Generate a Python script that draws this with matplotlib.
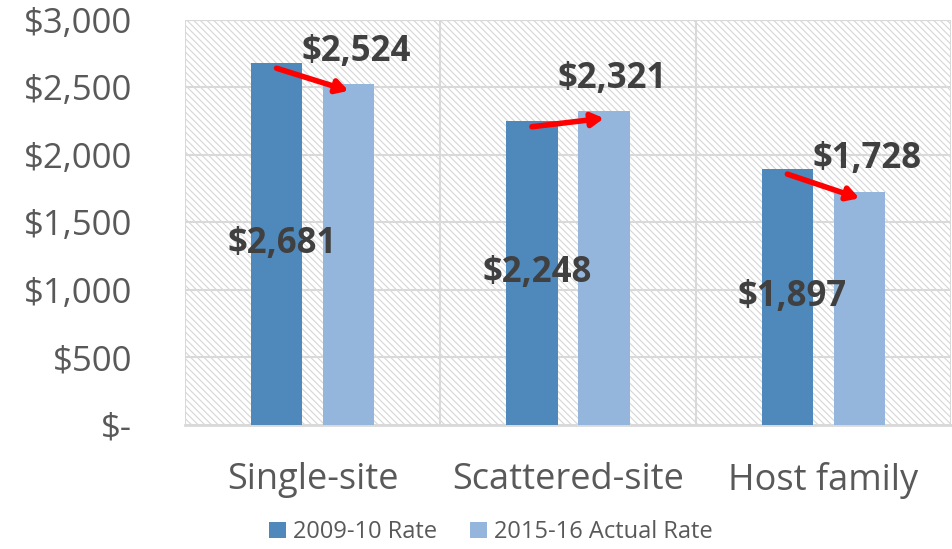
import numpy as np
import matplotlib.pyplot as plt
from matplotlib.patches import Rectangle

categories = ["Single-site", "Scattered-site", "Host family"]
rate_2009 = [2681, 2248, 1897]
rate_2015 = [2524, 2321, 1728]
series_names = ["2009-10 Rate", "2015-16 Actual Rate"]
yticks = [0, 500, 1000, 1500, 2000, 2500, 3000]
ytick_labels = ["$-", "$500", "$1,000", "$1,500", "$2,000", "$2,500", "$3,000"]

dark = "#4f88bb"
light = "#95b6dc"
txt = "#404040"
grid = "#d9d9d9"

plt.rcParams['font.family'] = ['Open Sans', 'DejaVu Sans']
plt.rcParams['hatch.color'] = '#d6d6d6'
plt.rcParams['hatch.linewidth'] = 0.8

fig = plt.figure(figsize=(9.53, 5.49), dpi=100)
ax = fig.add_axes([0.194, 0.226, 0.804, 0.738])

x = np.arange(len(categories))
w = 0.2
off = 0.141

# hatched background
ax.add_patch(Rectangle((0, 0), 1, 1, transform=ax.transAxes, facecolor='white',
                       hatch='\\\\\\\\\\', edgecolor='#d6d6d6', linewidth=0, zorder=0))

ax.bar(x - off, rate_2009, w, color=dark, label=series_names[0], zorder=3)
ax.bar(x + off, rate_2015, w, color=light, label=series_names[1], zorder=3)

ax.set_xlim(-0.5, 2.5)
ax.set_ylim(0, 3000)
ax.set_yticks(yticks)
ax.set_yticklabels(ytick_labels, fontsize=25, color='#595959')
ax.set_xticks(x)
ax.set_xticklabels(categories, fontsize=26, color='#595959')
ax.set_xticks([0.5, 1.5], minor=True)
ax.tick_params(axis='both', which='both', length=0)
ax.tick_params(axis='y', pad=38)
ax.tick_params(axis='x', pad=27)

ax.yaxis.grid(True, color=grid, linewidth=1.5, zorder=1)
ax.xaxis.grid(True, which='minor', color=grid, linewidth=1.5, zorder=1)
ax.xaxis.grid(False, which='major')
ax.set_axisbelow(True)
for s in ['top', 'right', 'left']:
    ax.spines[s].set_visible(False)
ax.spines['bottom'].set_color(grid)
ax.spines['bottom'].set_linewidth(2)
ax.axvline(-0.5, color=grid, linewidth=1.5, zorder=1)
ax.axvline(2.5, color=grid, linewidth=1.5, zorder=1)
ax.axhline(3000, color=grid, linewidth=1.5, zorder=1)

for i in range(len(categories)):
    ax.text(x[i] - off + 0.02, rate_2009[i] / 2, "${:,}".format(rate_2009[i]),
            ha='center', va='center', fontsize=25, fontweight='bold', color=txt, zorder=5)
    ax.text(x[i] + off + 0.03, rate_2015[i] + 240, "${:,}".format(rate_2015[i]),
            ha='center', va='center', fontsize=25, fontweight='bold', color=txt, zorder=5)
    ax.annotate("", xy=(x[i] + off, rate_2015[i] - 50),
                xytext=(x[i] - off, rate_2009[i] - 40),
                arrowprops=dict(arrowstyle='-|>,head_length=0.7,head_width=0.4',
                                color='#ff0000', lw=4, shrinkA=0, shrinkB=0),
                zorder=6)

fig.legend(loc='lower center', bbox_to_anchor=(0.515, -0.03), ncol=2, frameon=False,
           fontsize=17, labelcolor='#595959', handlelength=0.7, handleheight=0.7,
           handletextpad=0.3, columnspacing=1.4)

fig.savefig("out.png", dpi=100)
